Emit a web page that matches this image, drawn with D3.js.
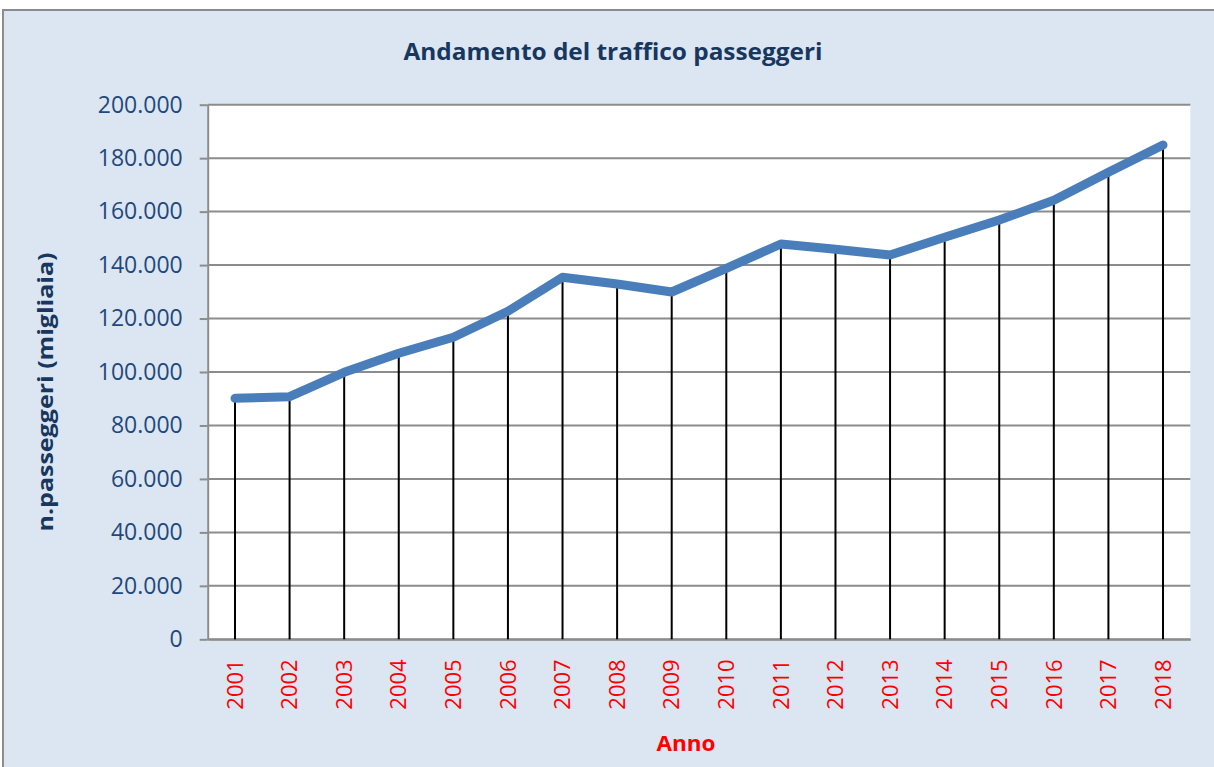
<!DOCTYPE html>
<html><head><meta charset="utf-8">
<script src="https://cdn.jsdelivr.net/npm/d3@7"></script>
<style>body{margin:0;background:#fff;}svg{display:block;}</style>
</head><body>
<svg id="chart" width="1214" height="767"></svg>
<script>
const years = ["2001","2002","2003","2004","2005","2006","2007","2008","2009","2010","2011","2012","2013","2014","2015","2016","2017","2018"];
const passengers = [90160,90760,99890,107000,112980,122710,135430,132920,129930,138790,147890,145900,143770,150390,156870,164230,174710,184930];
const yTicks = [0,20000,40000,60000,80000,100000,120000,140000,160000,180000,200000];
const titleText = "Andamento del traffico passeggeri";
const yTitle = "n.passeggeri (migliaia)";
const xTitle = "Anno";

const svg = d3.select("#chart");
const W = 1214, H = 767;
const m = {left: 207.7, right: 1190.3, top: 104.7, bottom: 639.3};
const it = d3.formatLocale({decimal: ",", thousands: ".", grouping: [3], currency: ["€",""]});
const fmt = it.format(",d");

svg.append("rect").attr("x", 3).attr("y", 10).attr("width", W).attr("height", H)
  .attr("fill", "#DCE6F2").attr("stroke", "#8c8c8c").attr("stroke-width", 2);

svg.append("rect").attr("x", m.left).attr("y", m.top).attr("width", m.right - m.left).attr("height", m.bottom - m.top).attr("fill", "#fff");

const x = d3.scaleBand().domain(years).range([m.left, m.right]);
const y = d3.scaleLinear().domain([0, 200000]).range([m.bottom, m.top]);

// gridlines
svg.append("g").selectAll("line").data(yTicks).join("line")
  .attr("x1", m.left).attr("x2", m.right)
  .attr("y1", d => y(d)).attr("y2", d => y(d))
  .attr("stroke", "#8c8c8c").attr("stroke-width", 2);

// y axis
const ya = svg.append("g").attr("transform", `translate(${m.left},0)`)
  .call(d3.axisLeft(y).tickValues(yTicks).tickFormat(d => fmt(d)).tickSize(8).tickPadding(17).tickSizeOuter(0));
ya.select(".domain").attr("stroke", "#8c8c8c").attr("stroke-width", 2);
ya.selectAll(".tick line").attr("stroke", "#8c8c8c").attr("stroke-width", 2);
ya.selectAll(".tick text").attr("fill", "#1F497D").attr("font-family", "Open Sans").attr("font-size", 23);

// x axis
const xa = svg.append("g").attr("transform", `translate(0,${m.bottom})`)
  .call(d3.axisBottom(x).tickSize(0).tickSizeOuter(0));
xa.select(".domain").attr("stroke", "#8c8c8c").attr("stroke-width", 2);
xa.selectAll(".tick text").attr("fill", "#FF0000").attr("font-family", "Open Sans").attr("font-size", 22)
  .attr("transform", "rotate(-90)").attr("text-anchor", "end")
  .attr("x", -20).attr("y", 0).attr("dy", "0.35em");

// drop lines
svg.append("g").selectAll("line").data(years).join("line")
  .attr("x1", d => x(d) + x.bandwidth()/2).attr("x2", d => x(d) + x.bandwidth()/2)
  .attr("y1", (d,i) => y(passengers[i])).attr("y2", m.bottom)
  .attr("stroke", "#000").attr("stroke-width", 2);

// line
const line = d3.line().x((d,i) => x(years[i]) + x.bandwidth()/2).y(d => y(d));
svg.append("path").datum(passengers).attr("d", line)
  .attr("fill", "none").attr("stroke", "#4A7EBB").attr("stroke-width", 9)
  .attr("stroke-linecap", "round").attr("stroke-linejoin", "round");

// titles
svg.append("text").attr("x", 613).attr("y", 60).attr("text-anchor", "middle")
  .attr("font-family", "Open Sans").attr("font-weight", "bold").attr("font-size", 23)
  .attr("fill", "#17375E").attr("textLength", 419).attr("lengthAdjust", "spacingAndGlyphs").text(titleText);

svg.append("text").attr("transform", "translate(53,392) rotate(-90)").attr("text-anchor", "middle")
  .attr("font-family", "Open Sans").attr("font-weight", "bold").attr("font-size", 21)
  .attr("fill", "#17375E").attr("textLength", 279).attr("lengthAdjust", "spacingAndGlyphs").text(yTitle);

svg.append("text").attr("x", 686).attr("y", 751).attr("text-anchor", "middle")
  .attr("font-family", "Open Sans").attr("font-weight", "bold").attr("font-size", 21)
  .attr("fill", "#FF0000").attr("textLength", 59).attr("lengthAdjust", "spacingAndGlyphs").text(xTitle);
</script>
</body></html>
